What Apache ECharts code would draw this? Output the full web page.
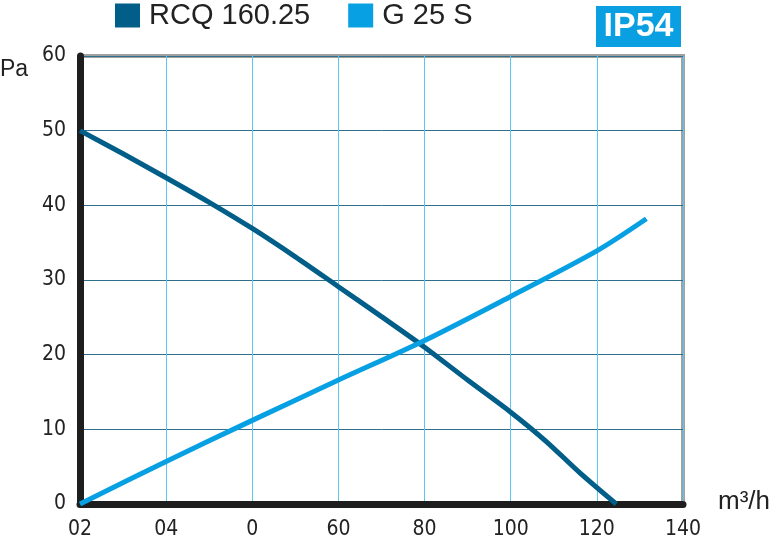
<!DOCTYPE html>
<html><head><meta charset="utf-8">
<script src="https://cdn.jsdelivr.net/npm/echarts@6/dist/echarts.min.js"></script>
<style>html,body{margin:0;padding:0;background:#fff}#c{width:773px;height:542px}</style>
</head><body><div id="c"></div>
<script>
const seriesNames = ['RCQ 160.25', 'G 25 S'];
const xTickLabels = ['02', '04', '0', '60', '80', '100', '120', '140'];
const yTickLabels = ['0', '10', '20', '30', '40', '50', '60'];
const rcqX = [0, 10, 20, 30, 40, 50, 60, 70, 80, 90, 100, 108, 116, 124.5];
const rcqY = [50, 46.9, 43.7, 40.4, 36.9, 33.1, 29.1, 25.1, 21, 16.6, 12.3, 8.5, 4.2, 0];
const gX = [0, 20, 40, 60, 80, 100, 120, 131.5];
const gY = [0, 5.7, 11.2, 16.6, 21.9, 27.8, 33.9, 38.2];

const font = '"DejaVu Sans Condensed", "Liberation Sans Narrow", "Liberation Sans", Arial, sans-serif';
const chart = echarts.init(document.getElementById('c'));
chart.setOption({
  animation: false,
  legend: {
    left: 115, top: 1, padding: 0, itemWidth: 25, itemHeight: 24, itemGap: 38,
    icon: 'rect',
    textStyle: { fontFamily: '"Liberation Sans", Arial, sans-serif', fontSize: 29, color: '#222', padding: [0,0,0,4] },
    data: seriesNames
  },
  grid: { left: 80, right: 90, top: 56, bottom: 38, show: true, borderColor: '#a0a0a0', borderWidth: 4 },
  xAxis: {
    type: 'value', min: 0, max: 140, interval: 20,
    axisLine: { show: true, lineStyle: { color: '#1e1e1e', width: 7 } },
    axisTick: { show: false },
    splitLine: { show: true, lineStyle: { color: '#5cc6f2', width: 1 } },
    axisLabel: { margin: 15, fontFamily: font, fontSize: 21, color: '#222',
      formatter: v => xTickLabels[Math.round(v / 20)] },
  },
  yAxis: {
    type: 'value', min: 0, max: 60, interval: 10,
    axisLine: { show: true, lineStyle: { color: '#1e1e1e', width: 7 } },
    axisTick: { show: false },
    splitLine: { show: true, lineStyle: { color: '#2f6f8c', width: 1 } },
    axisLabel: { margin: 14, fontFamily: font, fontSize: 21, color: '#222',
      formatter: v => yTickLabels[Math.round(v / 10)] },
  },
  series: [
    { name: seriesNames[0], type: 'line', showSymbol: false, smooth: 0.3, color: '#005e88',
      lineStyle: { width: 5, color: '#005e88' }, data: rcqX.map((x, i) => [x, rcqY[i]]) },
    { name: seriesNames[1], type: 'line', showSymbol: false, smooth: 0.3, color: '#07a0e2',
      lineStyle: { width: 5, color: '#07a0e2' }, data: gX.map((x, i) => [x, gY[i]]) }
  ],
  graphic: [
    { type: 'rect', left: 596, top: 6, shape: { width: 85, height: 41 }, style: { fill: '#0a9fe0' } },
    { type: 'text', x: 638.5, y: 27, style: { text: 'IP54', fill: '#fff', align: 'center', verticalAlign: 'middle', font: 'bold 34px "Liberation Sans", Arial, sans-serif' } },
    { type: 'text', left: 0, top: 58, style: { text: 'Pa', fill: '#222', font: '23px "Liberation Sans", Arial, sans-serif' } },
    { type: 'text', left: 718, top: 489, style: { text: 'm³/h', fill: '#222', font: '26px "Liberation Sans", Arial, sans-serif' } }
  ]
});
</script></body></html>
